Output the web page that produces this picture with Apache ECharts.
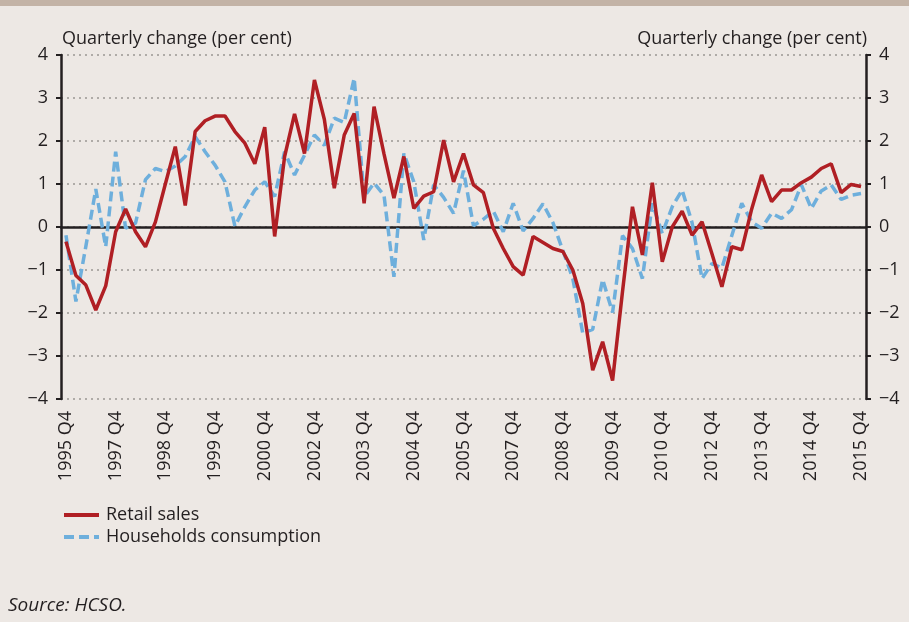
<!DOCTYPE html>
<html>
<head>
<meta charset="utf-8">
<script src="https://cdn.jsdelivr.net/npm/echarts@6/dist/echarts.min.js"></script>
<style>
  html, body { margin: 0; padding: 0; background: #ede8e4; }
  #band { height: 6px; background: #c3b3a6; }
  #chart { width: 909px; height: 616px; }
</style>
</head>
<body>
<div id="band"></div>
<div id="chart"></div>
<script>
// quarters 1995 Q4 .. 2015 Q4
const quarters = []
for (let y = 1995; y <= 2015; y++) {
  for (let q = 1; q <= 4; q++) {
    if (y === 1995 && q < 4) continue
    quarters.push(y + ' Q' + q)
  }
}

// labels printed under every 5th quarter
const tickLabels = ['1995 Q4', '1997 Q4', '1998 Q4', '1999 Q4', '2000 Q4', '2002 Q4', '2003 Q4', '2004 Q4', '2005 Q4',
  '2007 Q4', '2008 Q4', '2009 Q4', '2010 Q4', '2012 Q4', '2013 Q4', '2014 Q4', '2015 Q4']

const retailSales = [
  -0.34, -1.13, -1.35, -1.93, -1.37, -0.11, 0.42, -0.11, -0.46, 0.12,
  1.0, 1.87, 0.5, 2.22, 2.47, 2.58, 2.58, 2.22, 1.95, 1.47,
  2.32, -0.22, 1.64, 2.63, 1.71, 3.42, 2.5, 0.9, 2.14, 2.64,
  0.55, 2.8, 1.7, 0.67, 1.64, 0.43, 0.72, 0.82, 2.02, 1.05,
  1.71, 0.98, 0.8, -0.03, -0.5, -0.92, -1.12, -0.22, -0.36, -0.5,
  -0.57, -1.0, -1.78, -3.33, -2.67, -3.57, -1.5, 0.47, -0.65, 1.03,
  -0.81, 0.0, 0.37, -0.19, 0.12, -0.62, -1.39, -0.46, -0.53, 0.42,
  1.21, 0.59, 0.86, 0.86, 1.03, 1.16, 1.36, 1.47, 0.8, 0.99,
  0.94
]

const householdsConsumption = [
  -0.19, -1.73, -0.45, 0.88, -0.46, 1.75, -0.03, 0.09, 1.1, 1.36,
  1.29, 1.42, 1.64, 2.1, 1.75, 1.44, 1.05, 0.02, 0.47, 0.86,
  1.05, 0.71, 1.75, 1.21, 1.67, 2.14, 1.9, 2.53, 2.43, 3.46,
  0.7, 1.02, 0.74, -1.16, 1.71, 1.05, -0.3, 0.98, 0.69, 0.32,
  1.31, 0.03, 0.18, 0.37, -0.11, 0.55, -0.09, 0.2, 0.54, 0.1,
  -0.55, -1.2, -2.47, -2.38, -1.22, -1.99, -0.2, -0.5, -1.2, 0.55,
  -0.15, 0.47, 0.86, 0.1, -1.2, -0.85, -0.95, -0.2, 0.55, 0.12,
  -0.03, 0.32, 0.2, 0.4, 0.98, 0.43, 0.84, 0.98, 0.64, 0.74,
  0.78
]

const textColor = '#231f20'
const font = 'Open Sans'

const chart = echarts.init(document.getElementById('chart'))

function valueAxis(position) {
  return {
    type: 'value',
    position: position,
    min: -4,
    max: 4,
    interval: 1,
    name: 'Quarterly change (per cent)',
    nameLocation: 'end',
    nameGap: 7,
    nameTextStyle: {
      color: textColor,
      fontFamily: font,
      fontSize: 18,
      align: position === 'left' ? 'left' : 'right',
      padding: position === 'left' ? [0, 0, 0, 1] : [0, -1, 0, 0]
    },
    axisLine: { show: true, lineStyle: { color: '#231f20', width: 2.5 } },
    axisTick: { show: true, length: 5, lineStyle: { color: '#231f20', width: 2 } },
    axisLabel: {
      color: textColor,
      fontFamily: font,
      fontSize: 18,
      margin: 13,
      formatter: v => String(v).replace('-', '\u2212')
    },
    splitLine: position === 'left'
      ? { show: true, lineStyle: { color: '#9a9693', type: [2, 4], width: 1.5 } }
      : { show: false }
  }
}

chart.setOption({
  backgroundColor: '#ede8e4',
  animation: false,
  grid: {
    left: 61,
    right: 43,
    top: 49,
    bottom: 223
  },
  legend: {
    orient: 'vertical',
    left: 62,
    top: 500,
    padding: 0,
    itemWidth: 35,
    itemHeight: 14,
    itemGap: 4,
    textStyle: { color: textColor, fontFamily: font, fontSize: 18, padding: [0, 0, 0, 2] },
    itemStyle: { color: 'transparent', borderWidth: 0 },
    lineStyle: { width: 4 },
    data: ['Retail sales', 'Households consumption']
  },
  xAxis: [{
    type: 'category',
    data: quarters,
    boundaryGap: true,
    position: 'bottom',
    axisLine: { show: false },
    axisTick: { show: false },
    splitLine: { show: false },
    axisLabel: {
      interval: 0,
      rotate: 90,
      margin: 12,
      color: textColor,
      fontFamily: font,
      fontSize: 18,
      formatter: (v, i) => (i % 5 === 0 ? tickLabels[i / 5] : '')
    }
  }, {
    // zero line
    type: 'category',
    data: quarters,
    boundaryGap: true,
    axisLine: { show: true, onZero: true, lineStyle: { color: '#231f20', width: 2.5 } },
    axisTick: { show: false },
    axisLabel: { show: false },
    splitLine: { show: false }
  }],
  yAxis: [valueAxis('left'), valueAxis('right')],
  series: [{
    name: 'Households consumption',
    type: 'line',
    data: householdsConsumption,
    symbol: 'none',
    z: 3,
    itemStyle: { color: '#6eafdc' },
    lineStyle: { color: '#6eafdc', width: 3.5, type: [10, 5] }
  }, {
    name: 'Retail sales',
    type: 'line',
    data: retailSales,
    symbol: 'none',
    z: 4,
    itemStyle: { color: '#b01f24' },
    lineStyle: { color: '#b01f24', width: 3.5 }
  }],
  graphic: [{
    type: 'text',
    left: 8,
    top: 590,
    style: {
      text: 'Source: HCSO.',
      fill: textColor,
      font: 'italic 19px "Open Sans"'
    }
  }]
})
</script>
</body>
</html>
